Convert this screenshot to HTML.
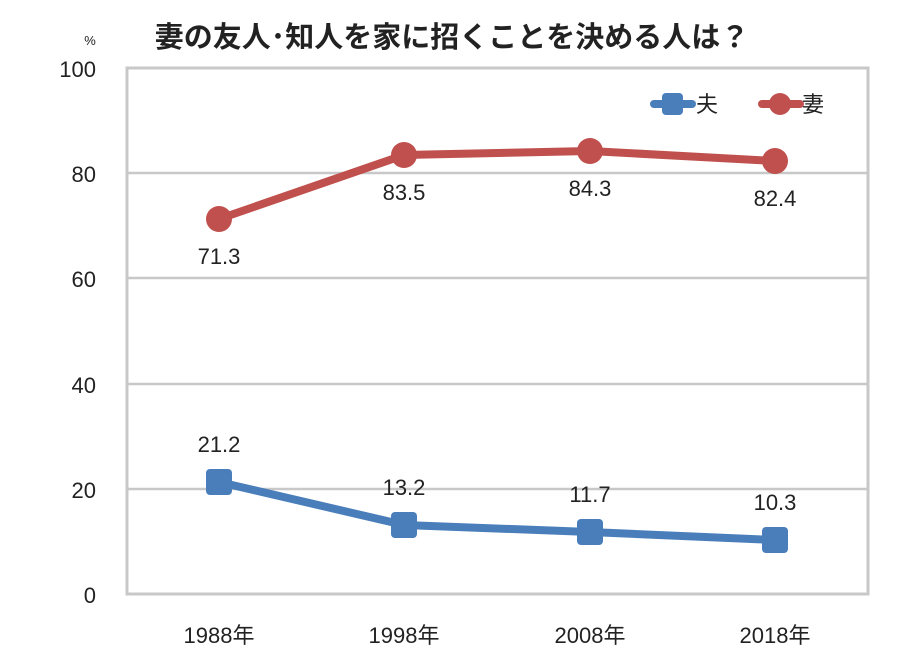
<!DOCTYPE html><html><head><meta charset="utf-8"><style>body{margin:0;background:#fff}svg{display:block}text{font-family:"Liberation Sans","Noto Sans CJK JP",sans-serif;fill:#222}</style></head><body>
<svg width="900" height="667" viewBox="0 0 900 667">
<text x="452" y="47" font-size="29" font-weight="bold" text-anchor="middle">妻の友人･知人を家に招くことを決める人は？</text>
<text x="90" y="45" font-size="13" text-anchor="middle">%</text>
<g stroke="#c8c8c8" stroke-width="2.5" fill="none">
<line x1="127" y1="173" x2="868" y2="173"/><line x1="127" y1="278" x2="868" y2="278"/><line x1="127" y1="384" x2="868" y2="384"/><line x1="127" y1="489" x2="868" y2="489"/>
<rect x="127" y="68" width="741" height="526" stroke-width="3"/>
</g>
<g font-size="22" text-anchor="end">
<text x="96" y="77">100</text><text x="96" y="182">80</text><text x="96" y="287">60</text><text x="96" y="393">40</text><text x="96" y="498">20</text><text x="96" y="603">0</text>
</g>
<g font-size="22" text-anchor="middle">
<text x="219" y="643">1988年</text><text x="404" y="643">1998年</text><text x="590" y="643">2008年</text><text x="775" y="643">2018年</text>
</g>
<polyline points="219,219 404,155 590,151 775,161" fill="none" stroke="#c0504d" stroke-width="8" stroke-linejoin="round"/>
<g fill="#c0504d"><circle cx="219" cy="219" r="13"/><circle cx="404" cy="155" r="13"/><circle cx="590" cy="151" r="13"/><circle cx="775" cy="161" r="13"/></g>
<polyline points="219,482 404,525 590,532 775,540" fill="none" stroke="#4a7ebb" stroke-width="8" stroke-linejoin="round"/>
<g fill="#4a7ebb"><rect x="206" y="469" width="26" height="26" rx="4"/><rect x="391" y="512" width="26" height="26" rx="4"/><rect x="577" y="519" width="26" height="26" rx="4"/><rect x="762" y="527" width="26" height="26" rx="4"/></g>
<g font-size="22" text-anchor="middle">
<text x="219" y="264">71.3</text><text x="404" y="200">83.5</text><text x="590" y="196">84.3</text><text x="775" y="206">82.4</text>
<text x="219" y="452">21.2</text><text x="404" y="495">13.2</text><text x="590" y="502">11.7</text><text x="775" y="510">10.3</text>
</g>
<line x1="654" y1="104" x2="692" y2="104" stroke="#4a7ebb" stroke-width="8" stroke-linecap="round"/>
<rect x="662" y="93" width="21" height="22" rx="4" fill="#4a7ebb"/>
<text x="696" y="112" font-size="22">夫</text>
<line x1="762" y1="104" x2="800" y2="104" stroke="#c0504d" stroke-width="8" stroke-linecap="round"/>
<circle cx="780" cy="104" r="11" fill="#c0504d"/>
<text x="802" y="112" font-size="22">妻</text>
</svg></body></html>
